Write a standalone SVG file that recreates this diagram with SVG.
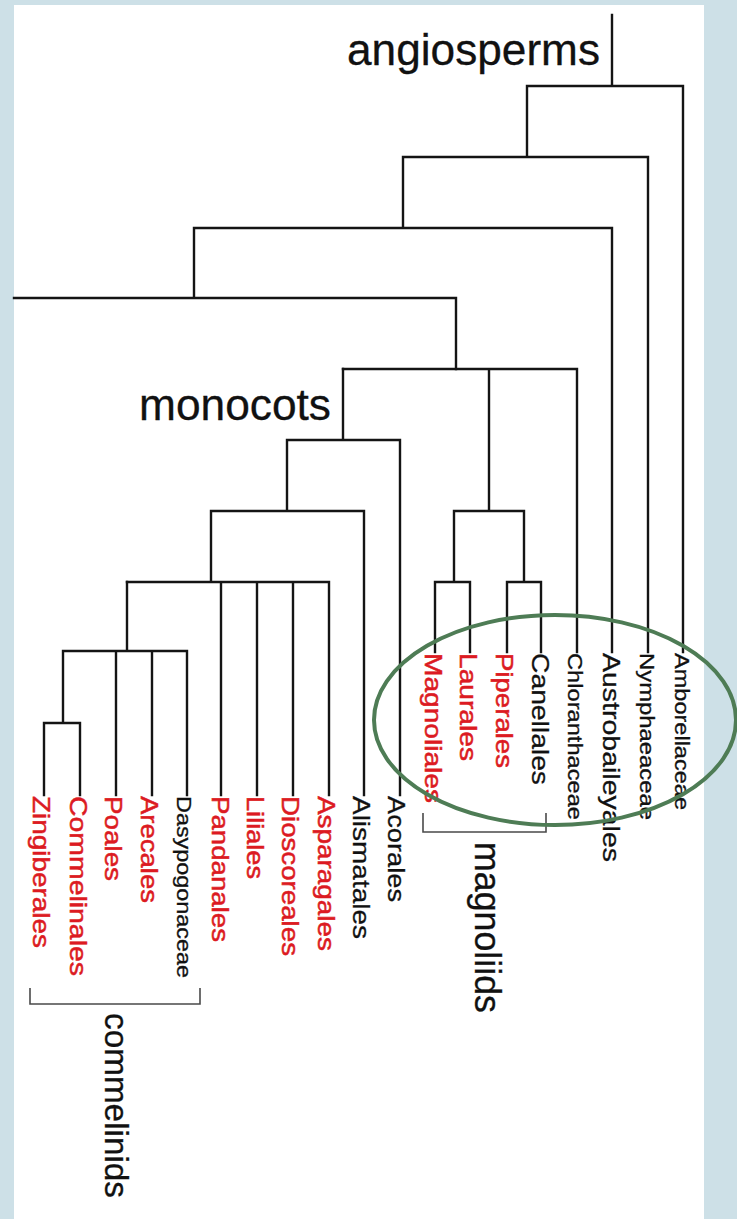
<svg xmlns="http://www.w3.org/2000/svg" width="737" height="1219" viewBox="0 0 737 1219">
<style>
.tree{fill:none;stroke:#141414;stroke-width:2.4;stroke-linecap:square;stroke-linejoin:miter}
.brk{fill:none;stroke:#4a4a4a;stroke-width:1.6}
.lab{font-family:"Liberation Sans",Arial,Helvetica,sans-serif;font-size:24px}
.sm{font-size:20px}
.red{fill:#dc1a22;stroke:#dc1a22;stroke-width:0.5}
.blk{fill:#111;stroke:#111;stroke-width:0.3}
.big{font-family:"Liberation Sans",Arial,Helvetica,sans-serif;fill:#111;stroke:#111;stroke-width:0.3}
</style>
<rect x="0" y="0" width="737" height="1219" fill="#cde0e7"/>
<rect x="14" y="5" width="690" height="1214" fill="#ffffff"/>
<g id="connectors" class="tree">
<path d="M612,15V86M527,86H683V652M527,86V157M403,157H648V652M403,157V228M194,228H612V652M194,228V298M14,298H456V369"/>
<path d="M343,369H577V652M489,369V511M454,511H524M454,511V582M435,582H470M435,582V652M470,582V652M524,511V582M507,582H541M507,582V652M541,582V652"/>
<path d="M343,369V440M287,440H400V795M287,440V511M211,511H364V795M211,511V582M127,582H329V795M221,582V795M257,582V795M293,582V795"/>
<path d="M127,582V651M63,651H187V795M116,651V795M152,651V795M63,651V723M44,723H80V795M44,723V795"/>
</g>
<g id="bracket-magnoliids" class="brk"><path d="M423,813V832H546V813"/></g>
<g id="bracket-commelinids" class="brk"><path d="M30,988V1004H200V988"/></g>
<g id="label-angiosperms"><text class="big" x="347" y="65" font-size="44" textLength="253" lengthAdjust="spacingAndGlyphs">angiosperms</text></g>
<g id="label-monocots"><text class="big" x="139" y="420" font-size="44" textLength="192" lengthAdjust="spacingAndGlyphs">monocots</text></g>
<g id="label-magnoliids"><text class="big" font-size="36" transform="translate(475,842) rotate(90)" textLength="171" lengthAdjust="spacingAndGlyphs">magnoliids</text></g>
<g id="label-commelinids"><text class="big" font-size="34" transform="translate(105,1013) rotate(90)" textLength="185" lengthAdjust="spacingAndGlyphs">commelinids</text></g>
<g id="node-zingiberales"><text class="lab red" transform="translate(33,796) rotate(90)" textLength="152" lengthAdjust="spacingAndGlyphs">Zingiberales</text></g>
<g id="node-commelinales"><text class="lab red" transform="translate(70,796) rotate(90)" textLength="180" lengthAdjust="spacingAndGlyphs">Commelinales</text></g>
<g id="node-poales"><text class="lab red" transform="translate(105,796) rotate(90)" textLength="85" lengthAdjust="spacingAndGlyphs">Poales</text></g>
<g id="node-arecales"><text class="lab red" transform="translate(141,796) rotate(90)" textLength="107" lengthAdjust="spacingAndGlyphs">Arecales</text></g>
<g id="node-dasypogonaceae"><text class="lab sm blk" transform="translate(177,796) rotate(90)" textLength="182" lengthAdjust="spacingAndGlyphs">Dasypogonaceae</text></g>
<g id="node-pandanales"><text class="lab red" transform="translate(212,796) rotate(90)" textLength="146" lengthAdjust="spacingAndGlyphs">Pandanales</text></g>
<g id="node-liliales"><text class="lab red" transform="translate(247,796) rotate(90)" textLength="83" lengthAdjust="spacingAndGlyphs">Liliales</text></g>
<g id="node-dioscoreales"><text class="lab red" transform="translate(282,796) rotate(90)" textLength="160" lengthAdjust="spacingAndGlyphs">Dioscoreales</text></g>
<g id="node-asparagales"><text class="lab red" transform="translate(318,796) rotate(90)" textLength="155" lengthAdjust="spacingAndGlyphs">Asparagales</text></g>
<g id="node-alismatales"><text class="lab blk" transform="translate(353,796) rotate(90)" textLength="143" lengthAdjust="spacingAndGlyphs">Alismatales</text></g>
<g id="node-acorales"><text class="lab blk" transform="translate(388,796) rotate(90)" textLength="106" lengthAdjust="spacingAndGlyphs">Acorales</text></g>
<g id="node-magnoliales"><text class="lab red" transform="translate(425,653) rotate(90)" textLength="150" lengthAdjust="spacingAndGlyphs">Magnoliales</text></g>
<g id="node-laurales"><text class="lab red" transform="translate(460,653) rotate(90)" textLength="108" lengthAdjust="spacingAndGlyphs">Laurales</text></g>
<g id="node-piperales"><text class="lab red" transform="translate(496,653) rotate(90)" textLength="115" lengthAdjust="spacingAndGlyphs">Piperales</text></g>
<g id="node-canellales"><text class="lab blk" transform="translate(532,653) rotate(90)" textLength="132" lengthAdjust="spacingAndGlyphs">Canellales</text></g>
<g id="node-chloranthaceae"><text class="lab sm blk" transform="translate(568,653) rotate(90)" textLength="167" lengthAdjust="spacingAndGlyphs">Chloranthaceae</text></g>
<g id="node-austrobaileyales"><text class="lab blk" transform="translate(603,653) rotate(90)" textLength="209" lengthAdjust="spacingAndGlyphs">Austrobaileyales</text></g>
<g id="node-nymphaeaceae"><text class="lab sm blk" transform="translate(640,653) rotate(90)" textLength="167" lengthAdjust="spacingAndGlyphs">Nymphaeaceae</text></g>
<g id="node-amborellaceae"><text class="lab sm blk" transform="translate(675,653) rotate(90)" textLength="157" lengthAdjust="spacingAndGlyphs">Amborellaceae</text></g>
<g id="highlight"><ellipse cx="555" cy="720" rx="181" ry="105" fill="none" stroke="#4e7c55" stroke-width="4"/></g>
</svg>
